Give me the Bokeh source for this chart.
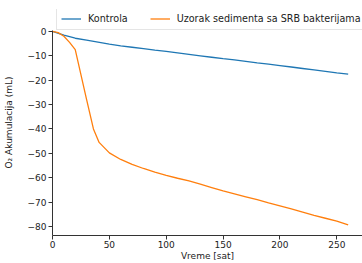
from bokeh.plotting import figure
from bokeh.models import Legend, LegendItem, Range1d, FixedTicker
from bokeh.embed import file_html
from bokeh.resources import INLINE

# Data
t_kontrola = [0, 10, 20, 30, 40, 50, 60, 70, 80, 90, 100, 110, 120, 130, 140, 150,
              160, 170, 180, 190, 200, 210, 220, 230, 240, 250, 260]
v_kontrola = [0, -1.5, -2.8, -3.6, -4.4, -5.2, -5.9, -6.5, -7.1, -7.7, -8.2, -8.8, -9.4,
              -10.0, -10.6, -11.2, -11.7, -12.3, -12.9, -13.4, -14.0, -14.6, -15.2,
              -15.8, -16.4, -17.0, -17.5]
t_uzorak = [0, 5, 10, 15, 20, 30, 36, 41, 50, 60, 70, 80, 90, 100, 110, 120, 130, 140,
            150, 160, 170, 180, 190, 200, 210, 220, 230, 240, 250, 260]
v_uzorak = [0, -0.5, -2.0, -4.5, -7.5, -28.0, -40.0, -45.5, -49.8, -52.5, -54.5, -56.2,
            -57.7, -59.0, -60.2, -61.3, -62.6, -64.0, -65.4, -66.6, -67.8, -69.0, -70.3,
            -71.5, -72.8, -74.1, -75.4, -76.6, -77.8, -79.3]
labels = ["Kontrola", "Uzorak sedimenta sa SRB bakterijama"]
x_ticks = [0, 50, 100, 150, 200, 250]
y_ticks = [0, -10, -20, -30, -40, -50, -60, -70, -80]

FONT = "DejaVu Sans"
FS = "9px"

p = figure(width=362, height=263, output_backend="svg", toolbar_location=None,
           x_range=Range1d(0, 272.6), y_range=Range1d(-83.67, 8.98),
           min_border_left=49, min_border_right=0, min_border_top=9,
           min_border_bottom=27)
p.outline_line_color = None
p.grid.visible = False
p.background_fill_color = "white"

r1 = p.line(t_kontrola, v_kontrola, line_color="#1f77b4", line_width=1.3)
r2 = p.line(t_uzorak, v_uzorak, line_color="#ff7f0e", line_width=1.3)

for ax in (p.xaxis[0], p.yaxis[0]):
    ax.major_label_text_font = FONT
    ax.major_label_text_font_size = FS
    ax.major_label_text_color = "#222222"
    ax.axis_label_text_font = FONT
    ax.axis_label_text_font_size = FS
    ax.axis_label_text_font_style = "normal"
    ax.axis_label_text_color = "#222222"
    ax.minor_tick_line_color = None
    ax.major_tick_in = 0
    ax.major_tick_out = 4
    ax.axis_line_color = "#333333"
    ax.major_tick_line_color = "#333333"
    ax.major_label_standoff = 2

p.xaxis[0].major_label_standoff = 1
p.xaxis[0].axis_label_standoff = 0
p.yaxis[0].axis_label_standoff = 11
p.xaxis[0].ticker = FixedTicker(ticks=x_ticks)
p.yaxis[0].ticker = FixedTicker(ticks=y_ticks)
p.yaxis[0].bounds = (-83.67, 0.2)
p.yaxis[0].major_label_overrides = {v: (str(v).replace("-", "\u2212")) for v in y_ticks}
p.xaxis[0].axis_label = "Vreme [sat]"
p.yaxis[0].axis_label = "O\u2082 Akumulacija (mL)"

legend = Legend(items=[LegendItem(label=labels[0], renderers=[r1]),
                       LegendItem(label=labels[1], renderers=[r2])],
                orientation="horizontal", location=(4, 205),
                label_text_font=FONT, label_text_font_size="9.6px",
                label_text_color="#222222",
                glyph_width=20, glyph_height=13, label_height=13,
                label_standoff=7, spacing=22, padding=4, margin=0,
                border_line_color="#cccccc", background_fill_alpha=0.9)
p.add_layout(legend, "center")

open("out.html", "w").write(file_html(p, INLINE))
